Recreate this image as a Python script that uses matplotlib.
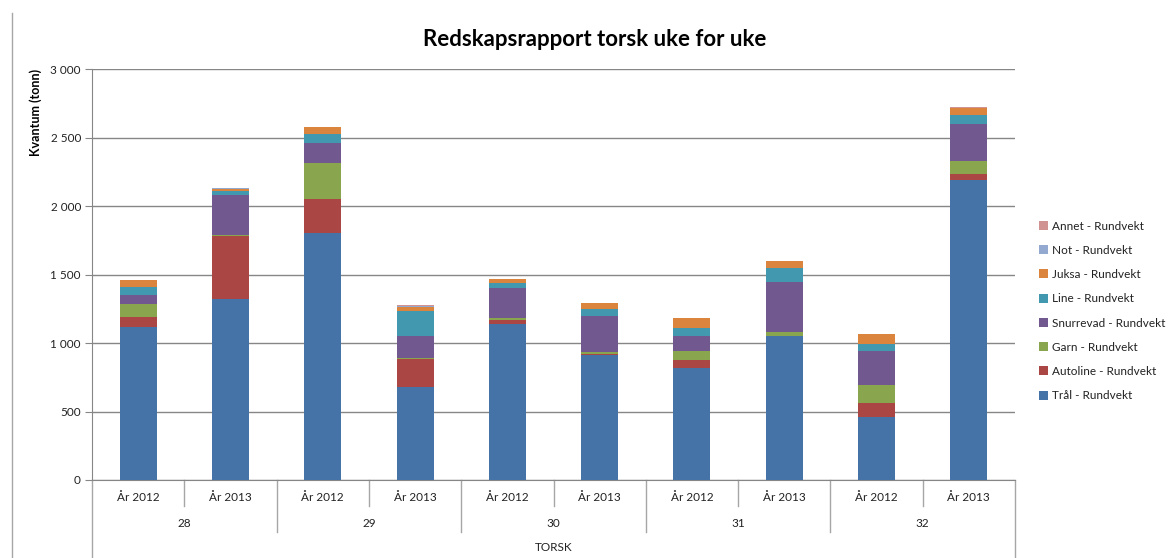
import numpy as np
import matplotlib.pyplot as plt
from matplotlib.patches import Patch

plt.rcParams['font.family'] = ['Lato', 'DejaVu Sans']

weeks = ['28', '29', '30', '31', '32']
years = ['År 2012', 'År 2013']

# tonnes per gear type, one value per (week, year) bar
tral      = [1120, 1320, 1800,  680, 1140,  912,  820, 1050,  462, 2192]
autoline  = [  72,  462,  250,  205,   28,   10,   58,    3,  100,   44]
garn      = [  93,    3,  262,    8,   17,   15,   66,   30,  131,   92]
snurrevad = [  65,  295,  146,  160,  219,  262,  109,  365,  251,  271]
line_     = [  59,   27,   66,  180,   34,   49,   59,  102,   51,   65]
juksa     = [  51,   15,   50,   30,   29,   44,   68,   49,   71,   51]
not_      = [   0,    9,    0,   10,    0,    0,    0,    0,    0,    0]
annet     = [   0,    0,    0,    4,    0,    0,    0,    0,    0,    5]

series = [
    ('Trål - Rundvekt', tral, '#4572A7'),
    ('Autoline - Rundvekt', autoline, '#AA4643'),
    ('Garn - Rundvekt', garn, '#89A54E'),
    ('Snurrevad - Rundvekt', snurrevad, '#71588F'),
    ('Line - Rundvekt', line_, '#4198AF'),
    ('Juksa - Rundvekt', juksa, '#DB843D'),
    ('Not - Rundvekt', not_, '#93A9CF'),
    ('Annet - Rundvekt', annet, '#D19392'),
]

fig = plt.figure(figsize=(11.7, 5.58), dpi=100)
ax = fig.add_axes([92/1170, 1-480/558, (1015-92)/1170, 411/558])

x = np.arange(len(tral))
bottom = np.zeros(len(tral))
for name, vals, col in series:
    ax.bar(x, vals, 0.4, bottom=bottom, color=col, zorder=3)
    bottom += np.array(vals)

ax.set_xlim(-0.5, 9.5)
ax.set_ylim(0, 3000)
ax.set_yticks(np.arange(0, 3001, 500))
ax.set_yticklabels(['0', '500', '1 000', '1 500', '2 000', '2 500', '3 000'])
ax.yaxis.grid(True, color='#868686', lw=1, zorder=0)
ax.tick_params(axis='y', length=5, color='#868686', labelsize=8.5, labelcolor='#222222', pad=3)
ax.set_xticks([])
for s in ['top', 'right']:
    ax.spines[s].set_visible(False)
for s in ['left', 'bottom']:
    ax.spines[s].set_color('#868686')
ax.set_ylabel('Kvantum (tonn)', fontsize=9, fontweight='bold')
ax.yaxis.set_label_coords(-50/923, 0.895)

# multi-level category axis
tr = ax.get_xaxis_transform()
kw = dict(transform=tr, clip_on=False, color='#a6a6a6', lw=1)
for i in range(len(tral)):
    ax.text(i, -0.042, years[i % 2], transform=tr, ha='center', va='center',
            fontsize=8.5, color='#222222')
for j, w in enumerate(weeks):
    ax.text(2*j + 0.5, -0.107, w, transform=tr, ha='center', va='center',
            fontsize=8.5, color='#222222')
    ax.plot([2*j + 0.5]*2, [0, -0.063], **kw)
for j in range(1, 5):
    ax.plot([2*j - 0.5]*2, [0, -0.127], **kw)
ax.plot([-0.5]*2, [0, -0.2], **kw)
ax.plot([9.5]*2, [0, -0.2], **kw)
ax.text(4.5, -0.165, 'TORSK', transform=tr, ha='center', va='center',
        fontsize=8.5, color='#222222')

# outer chart frame line on the left
fig.add_artist(plt.Line2D([12/1170]*2, [0, 1-13/558], color='#a6a6a6', lw=1))

fig.text(595/1170, 1-40/558, 'Redskapsrapport torsk uke for uke',
         ha='center', va='center', fontsize=16, fontweight='bold')

handles = [Patch(facecolor=c, label=n) for n, v, c in series][::-1]
fig.legend(handles=handles, loc='upper left', bbox_to_anchor=(1028/1170, 1-210/558),
           frameon=False, fontsize=8.5, labelspacing=1.12, handlelength=0.8,
           handleheight=0.8, handletextpad=0.3, labelcolor='#222222')

fig.savefig('out.png', dpi=100)
